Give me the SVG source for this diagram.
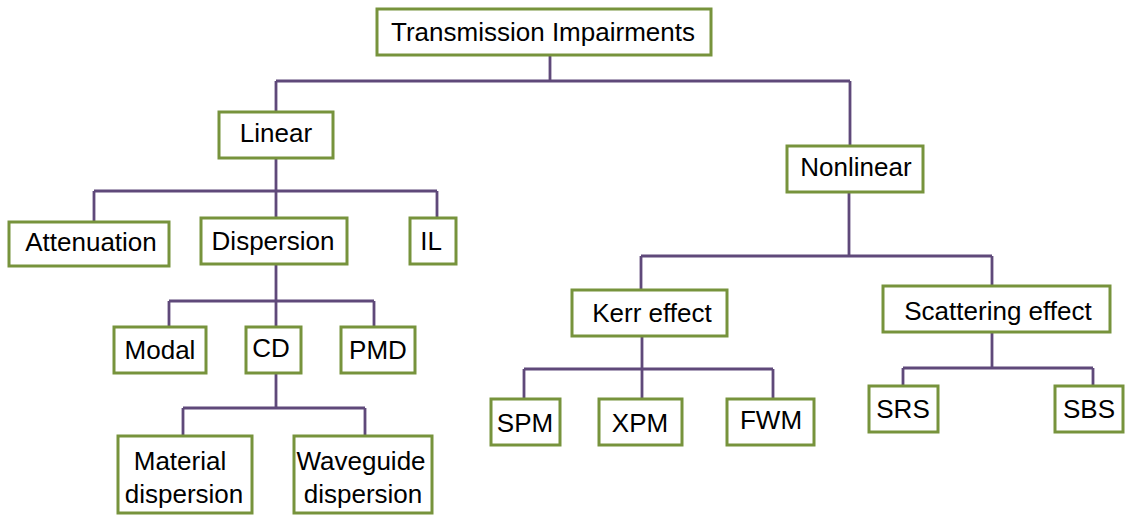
<svg xmlns="http://www.w3.org/2000/svg" width="1125" height="515" viewBox="0 0 1125 515">
<style>
.box{fill:#ffffff;stroke:#77933C;stroke-width:3}
.lbl{font-family:"Liberation Sans",Arial,sans-serif;font-size:26px;fill:#000000;text-anchor:middle}
.conn{fill:none;stroke:#5F497A;stroke-width:2.8;stroke-linejoin:miter}
</style>
<rect width="1125" height="515" fill="#ffffff"/>
<g id="connectors">
<path class="conn" d="M550,55 V81 M276,81 H850 M276,81 V112 M850,81 V146"/>
<path class="conn" d="M276,158 V191 M94,191 H437 M94,191 V222 M276,191 V218 M437,191 V218"/>
<path class="conn" d="M276,264 V301 M169,301 H374 M169,301 V327 M276,301 V327 M374,301 V327"/>
<path class="conn" d="M276,373 V408 M183,408 H365 M183,408 V436 M365,408 V436"/>
<path class="conn" d="M849,192 V256 M641,256 H992 M641,256 V290 M992,256 V286"/>
<path class="conn" d="M642,336 V369 M524,369 H773 M524,369 V399 M642,369 V399 M773,369 V399"/>
<path class="conn" d="M992,332 V368 M903,368 H1093 M903,368 V386 M1093,368 V386"/>
</g>
<g id="n-transmission"><rect class="box" x="377" y="9" width="334" height="46"/><text class="lbl" x="543" y="41">Transmission Impairments</text></g>
<g id="n-linear"><rect class="box" x="219" y="112" width="114" height="46"/><text class="lbl" x="276" y="142">Linear</text></g>
<g id="n-nonlinear"><rect class="box" x="787" y="146" width="136" height="46"/><text class="lbl" x="856" y="176">Nonlinear</text></g>
<g id="n-attenuation"><rect class="box" x="9" y="222" width="160" height="44"/><text class="lbl" x="91" y="251">Attenuation</text></g>
<g id="n-dispersion"><rect class="box" x="201" y="218" width="146" height="46"/><text class="lbl" x="273" y="250">Dispersion</text></g>
<g id="n-il"><rect class="box" x="410" y="218" width="46" height="46"/><text class="lbl" x="431" y="250">IL</text></g>
<g id="n-modal"><rect class="box" x="114" y="327" width="92" height="46"/><text class="lbl" x="160" y="359">Modal</text></g>
<g id="n-cd"><rect class="box" x="246" y="327" width="55" height="46"/><text class="lbl" x="271" y="357">CD</text></g>
<g id="n-pmd"><rect class="box" x="341" y="327" width="74" height="46"/><text class="lbl" x="378" y="359">PMD</text></g>
<g id="n-material"><rect class="box" x="118" y="436" width="134" height="77"/><text class="lbl" x="180" y="470">Material</text><text class="lbl" x="184" y="503">dispersion</text></g>
<g id="n-waveguide"><rect class="box" x="294" y="436" width="138" height="77"/><text class="lbl" x="361" y="470">Waveguide</text><text class="lbl" x="363" y="503">dispersion</text></g>
<g id="n-kerr"><rect class="box" x="572" y="290" width="155" height="46"/><text class="lbl" x="652" y="322">Kerr effect</text></g>
<g id="n-scattering"><rect class="box" x="883" y="286" width="227" height="46"/><text class="lbl" x="998" y="320">Scattering effect</text></g>
<g id="n-spm"><rect class="box" x="491" y="399" width="69" height="46"/><text class="lbl" x="525" y="432">SPM</text></g>
<g id="n-xpm"><rect class="box" x="599" y="399" width="83" height="46"/><text class="lbl" x="640" y="432">XPM</text></g>
<g id="n-fwm"><rect class="box" x="727" y="399" width="87" height="46"/><text class="lbl" x="771" y="429">FWM</text></g>
<g id="n-srs"><rect class="box" x="869" y="386" width="69" height="46"/><text class="lbl" x="903" y="418">SRS</text></g>
<g id="n-sbs"><rect class="box" x="1055" y="386" width="68" height="46"/><text class="lbl" x="1089" y="418">SBS</text></g>
</svg>
